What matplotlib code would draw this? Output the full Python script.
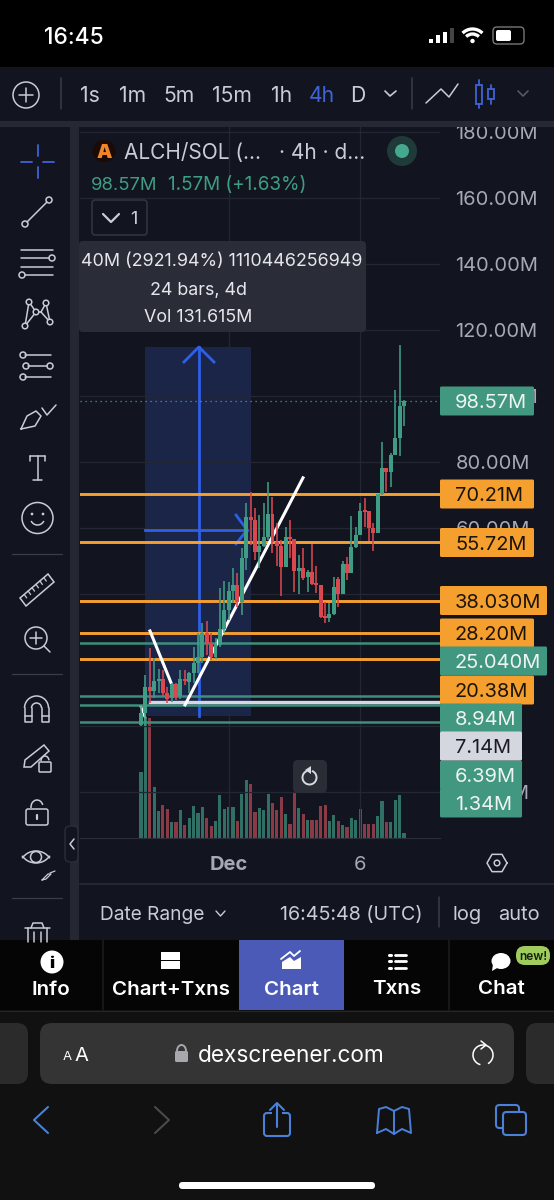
import numpy as np
import matplotlib
matplotlib.use("Agg")
import matplotlib.pyplot as plt
from matplotlib.patches import FancyBboxPatch, Rectangle, Circle, Polygon, Arc, Ellipse
from matplotlib.ticker import FuncFormatter, FixedLocator

plt.rcParams['font.family'] = ['Inter', 'DejaVu Sans']

# ---------- data (millions) ----------
opens = [0.3,3.8,11.7,10.7,13.7,14.1,10.1,8.4,12.6,9.1,14.1,13.4,16.2,19.2,21.0,28.3,25.0,21.0,24.5,29.3,35.1,41.0,42.7,37.7,50.8,63.4,62.4,52.8,54.5,57.2,64.2,55.9,54.6,48.3,57.2,56.6,47.1,47.8,45.2,46.8,43.0,42.7,33.1,32.6,33.9,44.5,40.0,49.1,46.3,54.1,57.9,65.2,65.2,59.9,58.6,70.3,78.1,77.1,82.1,87.2,97.0]
closes = [3.8,11.7,10.7,13.7,14.1,10.1,8.1,12.6,8.9,14.1,13.7,16.2,19.2,21.0,28.3,24.9,21.0,24.9,29.3,35.1,41.0,42.7,37.7,50.8,63.4,62.4,52.8,54.5,57.2,64.2,55.9,54.6,48.3,57.2,56.6,47.1,47.8,45.0,46.8,43.0,42.7,33.1,32.6,33.9,42.0,40.0,49.1,46.3,54.1,57.9,65.2,64.9,59.9,58.6,70.3,78.1,77.1,82.1,87.2,97.0,98.6]
highs = [6.4,15.5,23.5,20.5,17.2,17.0,11.9,12.9,12.9,17.0,17.0,16.5,23.8,28.1,31.3,31.9,28.1,26.6,41.7,44.0,43.7,47.8,46.3,53.8,67.7,71.0,66.0,64.0,67.7,73.8,69.3,61.6,56.4,60.2,62.4,56.6,51.8,53.8,47.3,55.3,48.6,42.7,37.7,37.2,45.3,45.3,50.1,51.3,63.6,60.2,67.7,69.0,65.2,61.6,70.3,86.0,78.1,82.6,101.8,115.5,98.8]
lows = [0.1,0.1,6.9,8.4,9.9,9.1,6.9,7.4,7.9,8.1,12.4,9.9,12.9,16.0,19.0,21.5,20.0,20.2,24.0,28.1,32.1,37.2,36.2,33.6,47.3,54.9,50.3,47.8,54.3,56.4,52.3,48.5,39.5,48.3,50.8,40.7,40.0,44.2,40.7,42.7,40.4,32.6,31.1,31.6,33.6,36.0,40.0,44.2,46.3,53.8,57.9,60.4,56.1,53.1,58.4,70.0,71.0,72.5,82.1,81.8,90.9]
volumes = [65.7,120,120,51,27,33,29,16,16,28,13,20,32,25,31,20,12,17,43,29,31,31,17,44,58,54,26,30,28,44,35,28,41,24,14,45,30,24,18,18,18,32,33,17,23,17,13,11,20,18,29,14,14,14,22,37,16,16,38,43,5]
price_ticks = [180,160,140,120,100,80,60,40,20,0,-20]
hidden_ticks = [40,20,0]
date_ticks = [20,50]
date_labels = ['Dec','6']
orange_levels = [70.21,55.72,38.03,28.20,20.38]
green_levels = [25.04,8.94,6.39,1.34]
white_level = 7.14
last_price = 98.57

GREEN, RED = '#3f9c85', '#d9474f'
VGREEN, VRED = '#2f6f64', '#8a3a44'
ORANGE = '#f59f2f'
TAG = '#41977f'
BLUE = '#2e5fe6'
BG = '#12151f'
ICON = '#c9ccd6'
ABLUE = '#3f63d8'

fig = plt.figure(figsize=(5.54, 12), dpi=100, facecolor='black')

def px_axes(z):
    a = fig.add_axes([0, 0, 1, 1], zorder=z)
    a.set_xlim(0, 554); a.set_ylim(1200, 0); a.axis('off'); a.patch.set_alpha(0)
    return a

bg = px_axes(0)
top = px_axes(5)

def rbox(a, x0, y0, x1, y1, r, fc, ec='none', lw=0, z=2):
    a.add_patch(FancyBboxPatch((x0, y0), x1-x0, y1-y0, boxstyle=f'round,pad=0,rounding_size={r}',
                               fc=fc, ec=ec, lw=lw, zorder=z, mutation_aspect=1))

def ln(xs, ys, c=ICON, lw=1.1, z=3, a=None, **k):
    (a or top).plot(xs, ys, color=c, lw=lw, zorder=z, solid_capstyle=k.pop('cap', 'round'), **k)

def tx(x, y, s, size=13, c='#c6c9d3', ha='center', w='normal', z=6, a=None, **k):
    (a or top).text(x, y, s, fontsize=size, color=c, ha=ha, va='center_baseline', fontweight=w, zorder=z, **k)

def circ(x, y, r, ec=ICON, fc='none', lw=1.1, z=3):
    top.add_patch(Circle((x, y), r, ec=ec, fc=fc, lw=lw, zorder=z))

# ---------- backgrounds ----------
bg.add_patch(Rectangle((0, 67), 554, 873, fc=BG, ec='none'))
bg.add_patch(Rectangle((70, 127), 9, 813, fc='#252832', ec='none', zorder=1))

# ---------- chart ----------
L, R, T, B = 80, 440, 127, 838
ax = fig.add_axes([L/554, 1-B/1200, (R-L)/554, (B-T)/1200], zorder=2)
ax.patch.set_alpha(0)
x_per_px = 1/4.383
ax.set_xlim((L-141)*x_per_px, (R-141)*x_per_px)
ax.set_ylim(100-(B-396)/3.3, 100+(396-T)/3.3)

# volume on its own scale (same pixel span)
vx = fig.add_axes(ax.get_position(), zorder=1)
vx.patch.set_alpha(0)
vx.set_xlim(ax.get_xlim())
vx.set_ylim(0, B-T)
vx.axis('off')

ax.yaxis.tick_right()
ax.yaxis.set_major_locator(FixedLocator(price_ticks))
ax.yaxis.set_major_formatter(FuncFormatter(lambda v, _: '' if round(v) in hidden_ticks else f'{abs(v):.2f}M'))
ax.xaxis.set_major_locator(FixedLocator(date_ticks))
ax.set_xticklabels(date_labels)
ax.tick_params(axis='y', length=0, pad=11, labelsize=14.4, labelcolor='#a6a9b3')
ax.tick_params(axis='x', length=0, pad=13, labelsize=14.5, labelcolor='#a6a9b3')
ax.get_xticklabels()[0].set_fontweight('bold')
ax.grid(True, color='#232733', lw=0.9, zorder=0)
ax.set_axisbelow(True)
for s in ax.spines.values():
    s.set_visible(False)
ax.spines['bottom'].set_visible(True)
ax.spines['bottom'].set_color('#2b2f3a')

idx = np.arange(len(opens))
o, h, l, c = map(np.array, (opens, highs, lows, closes))
up = c >= o

# measure tool
vx.add_patch(Rectangle((0.9, (B-716)), 24.1, 369, fc='#1a2547', ec='none', zorder=0))
ax.plot([13.2, 13.2], [3.0, 114.85], color=BLUE, lw=2.0, zorder=2)
ax.plot([9.8, 13.2, 16.65], [110.3, 114.85, 110.3], color=BLUE, lw=2.0, zorder=2)
ax.plot([0.9, 24.2], [59.4, 59.4], color=BLUE, lw=2.0, zorder=2)
ax.plot([21.7, 24.2, 21.7], [63.9, 59.4, 55.2], color=BLUE, lw=2.0, zorder=2)

# levels
ax.axhline(last_price, color='#4f9c8c', lw=0.9, ls=(0, (1, 3)), zorder=2)
for v in orange_levels:
    ax.axhline(v, color=ORANGE, lw=2.1, zorder=3)
for v in green_levels:
    ax.axhline(v, color='#3d8f7c', lw=1.8, zorder=3)
ax.plot([2.0, (R-141)*x_per_px], [white_level]*2, color='#d5d7e2', lw=2.4, zorder=3)

vx.bar(idx, volumes, width=0.72, color=[VGREEN if u else VRED for u in up], zorder=1)

# trend lines
ax.plot([0, 0.9], [5.8, 2.7], color='white', lw=1.8, zorder=4)
ax.plot([2.05, 7.07], [28.8, 12.4], color='white', lw=2.2, zorder=4)
ax.plot([10.04, 36.96], [6.4, 75.2], color='white', lw=2.2, zorder=4)

# candles
cols = [GREEN if u else RED for u in up]
ax.vlines(idx, l, h, colors=cols, lw=1.15, zorder=5)
ax.bar(idx, np.maximum(np.abs(c-o), 0.6), bottom=np.minimum(o, c), width=0.9, color=cols, zorder=6)

# ---------- price tags ----------
def tag(y, s, x1, fc, tc):
    rbox(top, 440, y-14.5, x1, y+14.5, 1.5, fc, z=4)
    tx(455, y, s, 14.4, tc, ha='left', z=6)

tag(401, '98.57M', 534, TAG, '#eef4f2')
tag(494, '70.21M', 534, ORANGE, '#1b1409')
tag(542.5, '55.72M', 534, ORANGE, '#1b1409')
tag(600.5, '38.030M', 547, ORANGE, '#1b1409')
tag(633, '28.20M', 534, ORANGE, '#1b1409')
tag(690, '20.38M', 534, ORANGE, '#1b1409')
tag(661, '25.040M', 547, TAG, '#eef4f2')
tag(718, '8.94M', 522, TAG, '#eef4f2')
tag(775, '6.39M', 522, TAG, '#eef4f2')
tag(803, '1.34M', 522, TAG, '#eef4f2')
tag(746, '7.14M', 522, '#d5d7e0', '#1a1c22')

# reset button
rbox(top, 293, 760, 327, 793, 5, '#2a2d36', z=4)
top.add_patch(Arc((309.5, 777.5), 14, 14, theta1=-70, theta2=250, ec='#d8dae2', lw=1.4, zorder=6))
top.add_patch(Polygon([[305, 770], [311, 766], [311, 774]], fc='#d8dae2', ec='none', zorder=6))

# ---------- status bar & header ----------
top.add_patch(Rectangle((0, 0), 554, 67, fc='black', ec='none', zorder=1))
tx(74, 36, '16:45', 16.4, 'white', w='medium')
for x, yt, col in [(431, 39, 'white'), (438, 35, 'white'), (445, 32, 'white'), (452, 28, '#444')]:
    top.add_patch(Rectangle((x-2.2, yt), 4.4, 43-yt, fc=col, ec='none', zorder=3))
for r in (14, 9):
    top.add_patch(Arc((472.5, 43), 2*r, 2*r, theta1=225, theta2=315, ec='white', lw=2.4, zorder=3))
circ(472.5, 41, 2.2, ec='none', fc='white')
rbox(top, 493, 27, 524, 44, 4, 'none', ec='#777', lw=1, z=3)
rbox(top, 496, 30, 511, 41, 2, 'white', z=3)

top.add_patch(Rectangle((0, 67), 554, 54, fc=BG, ec='none', zorder=1))
top.add_patch(Rectangle((0, 121), 554, 6, fc='#262933', ec='none', zorder=1))
circ(26, 95, 13, lw=1.1)
ln([19, 33], [95, 95]); ln([26, 26], [88, 102])
ln([60.7, 60.7], [78, 109], c='#3a3d47')
ln([411.6, 411.6], [78, 109], c='#3a3d47')
for x, s, col in [(90, '1s', ICON), (133, '1m', ICON), (179, '5m', ICON), (232, '15m', ICON),
                  (282, '1h', ICON), (322, '4h', ABLUE), (358, 'D', ICON)]:
    tx(x, 94, s, 15.2, col)
ln([385, 390, 396], [91, 96, 91], lw=1.2)
ln([426, 441, 449, 458], [103, 89, 97, 84], lw=1.1)
for x, y0, y1, b0, b1 in [(479, 80, 108, 85, 104), (491, 85, 104, 89, 99)]:
    ln([x, x], [y0, b0], c=ABLUE, lw=1.3); ln([x, x], [b1, y1], c=ABLUE, lw=1.3)
    top.add_patch(Rectangle((x-3, b0), 6, b1-b0, fc='none', ec=ABLUE, lw=1.3, zorder=3))
ln([518, 523, 528], [91, 96, 91], c='#555963', lw=1.2)

# ---------- legend ----------
circ(104, 151, 11.5, ec='none', fc='#1a0b08')
tx(104, 151, 'A', 14, '#f0852a', w='black')
tx(124, 151, 'ALCH/SOL (...', 15, '#c9ccd6', ha='left')
tx(279, 151, '· 4h · d...', 15, '#c9ccd6', ha='left')
circ(402, 151, 15, ec='none', fc='#1f3a38')
circ(402, 151, 7, ec='none', fc='#45a98f')
tx(91, 183, '98.57M', 13.3, '#3f9c85', ha='left')
tx(168, 183, '1.57M (+1.63%)', 13.6, '#3f9c85', ha='left')
rbox(top, 92, 200, 147, 235, 3, BG, ec='#353945', lw=1)
ln([103, 111, 119], [214, 222, 214], lw=1.6)
tx(134, 218, '1', 13, ICON)

# ---------- tooltip ----------
rbox(top, 79, 241, 366, 332, 4, '#2a2d37', z=2)
tx(222, 259, '40M (2921.94%) 1110446256949', 12.9, '#e6e7ec')
tx(198, 288, '24 bars, 4d', 12.9, '#e6e7ec')
tx(198, 316, 'Vol 131.615M', 12.9, '#e6e7ec')

# ---------- sidebar icons ----------
ln([21, 32], [162, 162], c=ABLUE, lw=1.3); ln([43, 54], [162, 162], c=ABLUE, lw=1.3)
ln([37.5, 37.5], [145, 156], c=ABLUE, lw=1.3); ln([37.5, 37.5], [167, 178], c=ABLUE, lw=1.3)
ln([27, 47], [222, 202]); circ(25, 224, 3); circ(49, 200, 3)
for y, x0, x1 in [(250, 21, 53), (258, 21, 49), (267, 21, 53), (275, 25, 53)]:
    ln([x0, x1], [y, y])
circ(52, 258, 3); circ(22, 275, 3)
pts = [(29, 302), (46, 303), (36, 312), (25, 326), (50, 322), (41, 312)]
for p, q in [(0, 2), (0, 3), (1, 5), (1, 4), (2, 5), (3, 2), (4, 5)]:
    ln([pts[p][0], pts[q][0]], [pts[p][1], pts[q][1]])
for p in pts[:5]:
    circ(p[0], p[1], 2.8, fc=BG, z=4)
for y, x0, x1 in [(355, 25, 51), (366, 28, 47), (377, 25, 51)]:
    ln([x0, x1], [y, y]); circ(x0-2, y, 3)
circ(50, 366, 3)
ln([21, 27, 36, 41, 35, 21], [429, 416, 411, 416, 426, 429]); ln([42, 47, 56], [408, 415, 405])
ln([30, 45], [456, 456]); ln([37.5, 37.5], [456, 480]); ln([33, 42], [480, 480]); ln([30, 30], [456, 461]); ln([45, 45], [456, 461])
circ(37.5, 518, 15.5)
circ(32, 514, 0.6, fc=ICON); circ(43, 514, 0.6, fc=ICON)
top.add_patch(Arc((37.5, 518), 14, 14, theta1=25, theta2=155, ec=ICON, lw=1.1, zorder=3))
for y in (553.5, 674, 898):
    ln([12, 62], [y, y], c='#3a3d47', lw=0.9)
top.add_patch(Polygon([[20, 598], [48, 574], [54, 582], [26, 606]], fc='none', ec=ICON, lw=1.1, zorder=3))
for t in np.arange(0.15, 0.95, 0.14):
    xa, ya = 20+28*t, 598-24*t
    ln([xa, xa+2.5], [ya, ya+3.5], lw=0.9)
circ(36, 638, 11); ln([30, 42], [638, 638]); ln([36, 36], [632, 644]); ln([44, 50], [646, 652])
top.add_patch(Arc((36.5, 708), 24, 24, theta1=180, theta2=360, ec=ICON, lw=1.1, zorder=3))
top.add_patch(Arc((36.5, 708), 10, 10, theta1=180, theta2=360, ec=ICON, lw=1.1, zorder=3))
ln([24.5, 24.5, 31.5, 31.5], [708, 722, 722, 708]); ln([48.5, 48.5, 41.5, 41.5], [708, 722, 722, 708])
ln([24.5, 31.5], [716, 716]); ln([41.5, 48.5], [716, 716])
top.add_patch(Polygon([[25, 760], [44, 745], [49, 751], [31, 767], [24, 767]], fc='none', ec=ICON, lw=1.1, zorder=3))
rbox(top, 39, 762, 51, 772, 1, BG, ec=ICON, lw=1.1, z=4)
top.add_patch(Arc((45, 761), 8, 10, theta1=180, theta2=350, ec=ICON, lw=1.1, zorder=4))
rbox(top, 26, 809, 48, 825, 2, BG, ec=ICON, lw=1.1)
top.add_patch(Arc((37, 807), 12, 14, theta1=170, theta2=340, ec=ICON, lw=1.1, zorder=3))
ln([37, 37], [815, 819], lw=1.6)
top.add_patch(Arc((36, 868), 34, 34, theta1=215, theta2=325, ec=ICON, lw=1.1, zorder=3))
top.add_patch(Arc((36, 846), 34, 34, theta1=35, theta2=145, ec=ICON, lw=1.1, zorder=3))
circ(36, 857, 5.5)
ln([42, 48, 51, 46, 42], [880, 874, 874, 879, 880], lw=0.9); ln([50, 55], [873, 871], lw=0.9)
ln([25, 50], [928, 928]); ln([31, 33, 42, 44], [928, 923, 923, 928])
ln([28, 28], [928, 942]); ln([47, 47], [928, 942]); ln([34, 34], [932, 942]); ln([41, 41], [932, 942])
rbox(top, 65, 826, 78, 862, 5, BG, ec='#2b2e39', lw=1, z=3)
ln([74, 70, 74], [839, 844, 849], lw=1.1)

# ---------- lower chart UI ----------
ln([80, 554], [884, 884], c='#262933', lw=1.4)
hex_x = [497+10*np.cos(a) for a in np.radians(np.arange(0, 361, 60))]
hex_y = [863+10*np.sin(a) for a in np.radians(np.arange(0, 361, 60))]
ln(hex_x, hex_y); circ(497, 863, 2.8)
tx(100, 913, 'Date Range', 13.8, ICON, ha='left')
ln([216, 220.5, 225], [911, 916, 911], lw=1)
tx(280, 913, '16:45:48 (UTC)', 14.2, ICON, ha='left')
ln([439, 439], [897, 927], c='#3a3d47')
tx(467.5, 913, 'log', 14.4, ICON); tx(519, 913, 'auto', 14.4, ICON)

# ---------- tab bar ----------
top.add_patch(Rectangle((0, 940), 554, 70, fc='#050505', ec='none', zorder=2))
top.add_patch(Rectangle((239, 940), 105, 70, fc='#4a5ab6', ec='none', zorder=3))
for x in (103, 449):
    ln([x, x], [940, 1010], c='#1d1d1d', z=3)
for x, s, y in [(51, 'Info', 988), (171, 'Chart+Txns', 988), (291, 'Chart', 988), (397, 'Txns', 987), (501, 'Chat', 987)]:
    tx(x, y, s, 14.8, 'white', w='semibold')
circ(52, 962, 11.5, ec='none', fc='white', z=4)
tx(52, 962.5, 'i', 12, 'black', w='black')
top.add_patch(Rectangle((161, 952), 19, 8, fc='white', ec='none', zorder=4))
top.add_patch(Rectangle((161, 961), 19, 8, fc='white', ec='none', zorder=4))
top.add_patch(Polygon([[282, 969], [282, 962], [290, 957], [294, 961], [301, 957], [301, 969]], fc='white', ec='none', zorder=4))
ln([281, 290, 294, 300], [959, 952, 956, 951], c='white', lw=1.3, z=4)
for y in (955, 961, 968):
    ln([389, 391], [y, y], c='white', lw=2.2, z=4); ln([395, 406], [y, y], c='white', lw=2, z=4)
top.add_patch(Ellipse((501, 961), 19, 16, fc='white', ec='none', zorder=4))
top.add_patch(Polygon([[493, 964], [492, 971], [499, 967]], fc='white', ec='none', zorder=4))
rbox(top, 516, 946, 550, 965, 9, '#9fcc5d', z=4)
tx(533, 955.5, 'new!', 8.6, '#12200a', w='semibold')

# ---------- browser ----------
top.add_patch(Rectangle((0, 1010), 554, 190, fc='#111111', ec='none', zorder=2))
ln([0, 554], [1010.5, 1010.5], c='#262626', lw=0.8, z=3)
rbox(top, -20, 1023, 28, 1084, 11, '#2b2b2b', z=3)
rbox(top, 40, 1023, 514, 1084, 12, '#343434', z=3)
rbox(top, 526, 1023, 580, 1084, 11, '#2b2b2b', z=3)
tx(67, 1056, 'A', 9.5, 'white'); tx(81, 1054, 'A', 14.5, 'white')
rbox(top, 175, 1051, 188, 1062, 1.5, '#a7a7ad', z=4)
top.add_patch(Arc((181.5, 1051), 9, 12, theta1=180, theta2=360, ec='#a7a7ad', lw=1.4, zorder=4))
tx(198, 1054, 'dexscreener.com', 16.3, 'white', ha='left')
top.add_patch(Arc((483, 1055), 20, 20, theta1=-255, theta2=60, ec='white', lw=1.1, zorder=4))
ln([481, 486, 481], [1041, 1045, 1049], c='white', lw=1.1, z=4)
B2 = '#4a80d8'
ln([48, 34, 48], [1107, 1120, 1133], c=B2, lw=1.5, z=4)
ln([155, 169, 155], [1107, 1120, 1133], c='#4a4a4a', lw=1.5, z=4)
rbox(top, 264, 1113, 290, 1136, 3, 'none', ec=B2, lw=1.5, z=4)
top.add_patch(Rectangle((272, 1108), 10, 10, fc='#111111', ec='none', zorder=4))
ln([277, 277], [1104, 1127], c=B2, lw=1.5, z=5)
ln([270, 277, 284], [1110, 1103, 1110], c=B2, lw=1.5, z=5)
ln([377, 379, 386, 394, 402, 409, 411, 402, 394, 386, 377], [1133, 1109, 1107, 1111, 1107, 1109, 1133, 1129, 1134, 1129, 1133], c=B2, lw=1.4, z=4)
ln([394, 394], [1111, 1134], c=B2, lw=1.4, z=4)
rbox(top, 496, 1105, 519, 1128, 3.5, '#111111', ec=B2, lw=1.5, z=4)
rbox(top, 503, 1112, 526, 1135, 3.5, '#111111', ec=B2, lw=1.5, z=5)
rbox(top, 179, 1182, 375, 1189, 3.5, 'white', z=4)

fig.savefig('out.png', dpi=100, facecolor='black')
